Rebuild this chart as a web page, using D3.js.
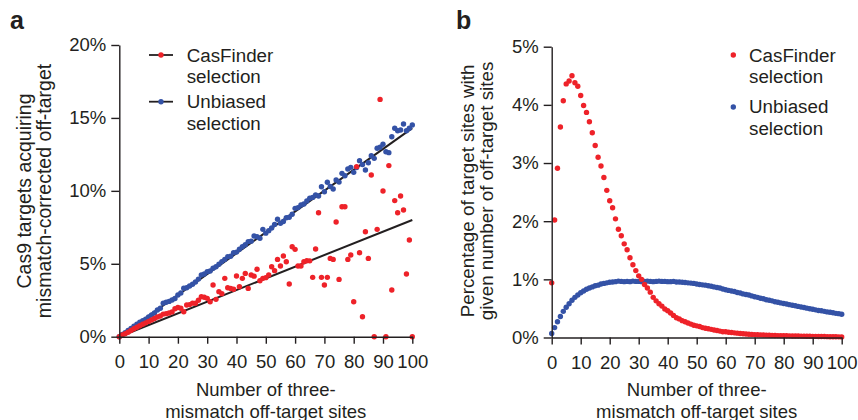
<!DOCTYPE html>
<html>
<head>
<meta charset="utf-8">
<script src="https://cdn.jsdelivr.net/npm/d3@7"></script>
<style>
  body { margin: 0; background: #fff; }
  svg { display: block; font-family: "Liberation Sans", Arial, Helvetica, sans-serif; }
  .axis path, .axis line { stroke: #231f20; stroke-width: 1.4; }
  .axis text { font-size: 18.5px; fill: #231f20; font-family: "Liberation Sans", Arial, sans-serif; }
  .title { font-size: 18.5px; fill: #231f20; }
  .legend { font-size: 18.8px; fill: #231f20; }
  .letter { font-size: 25px; font-weight: bold; fill: #231f20; }
</style>
</head>
<body>
<svg id="chart" width="858" height="420"></svg>
<script>
// number of three-mismatch off-target sites, one point per count
const sites = d3.range(0, 101);
const xTicks = [0, 10, 20, 30, 40, 50, 60, 70, 80, 90, 100];
const aTicks = [0, 5, 10, 15, 20];
const bTicks = [0, 1, 2, 3, 4, 5];
const legendNames = ['CasFinder', 'Unbiased'];

// panel a: % of Cas9 targets acquiring mismatch-corrected off-target
const aCasFinder = [
  0, 0.12, 0.2, 0.3, 0.42, 0.55, 0.65, 0.75, 0.85, 0.95,
  1.05, 1.15, 1.25, 1.35, 1.42, 1.55, 1.58, 1.62, 1.7, 1.92,
  2.0, 1.95, 1.71, 2.17, 2.2, 2.3, 2.29, 2.5, 2.74, 2.7,
  2.63, 2.4, 3.54, 2.56, 3.09, 2.95, 4.0, 3.36, 3.3, 3.25,
  4.16, 3.43, 4.0, 4.34, 3.31, 4.23, 4.15, 4.62, 3.84, 4.0,
  4.05, 4.23, 4.8, 4.53, 5.3, 4.85, 5.53, 5.14, 3.61, 6.17,
  5.99, 4.85, 4.85, 5.14, 5.21, 5.2, 4.07, 6.01, 8.5, 4.07,
  3.54, 4.07, 5.37, 5.3, 7.86, 3.93, 8.91, 8.91, 5.3, 5.6,
  2.4, 11.66, 5.76, 1.37, 7.2, 5.37, 11.09, 0, 7.36, 16.27,
  9.99, 0, 11.73, 3.2, 9.33, 8.5, 9.65, 8.69, 4.3, 6.63,
  0
];
const aUnbiased = [
  0, 0.15, 0.28, 0.42, 0.57, 0.72, 0.85, 1.0, 1.1, 1.2,
  1.36, 1.49, 1.62, 1.83, 1.95, 2.3, 2.36, 2.42, 2.52, 2.62,
  2.86, 3.0, 3.32, 3.36, 3.48, 3.6, 3.75, 3.95, 4.23, 4.3,
  4.46, 4.5, 4.69, 4.8, 4.97, 5.15, 5.3, 5.49, 5.52, 5.76,
  5.8, 6.0, 6.17, 6.3, 6.52, 6.55, 6.9, 6.85, 6.75, 7.36,
  7.1, 7.27, 7.45, 7.7, 8.05, 7.77, 7.9, 8.16, 8.19, 8.4,
  8.8, 8.85, 9.03, 9.1, 9.3, 9.49, 9.55, 9.72, 9.65, 10.28,
  9.94, 10.59, 10.3, 10.13, 10.74, 10.6, 11.2, 11.04, 11.5, 11.61,
  11.27, 11.6, 12.07, 11.8, 11.43, 11.93, 12.41, 12.23, 12.92, 12.99,
  13.19, 12.68, 12.62, 13.71, 14.29, 14.12, 14.17, 14.58, 14.12, 14.29,
  14.51
];
const fitSites = [0, 100];
const aCasFinderFit = [0, 8.0];
const aUnbiasedFit = [0, 14.3];

// panel b: % of target sites with given number of off-target sites
const bCasFinder = [
  0.94, 2.02, 2.91, 3.62, 4.07, 4.36, 4.41, 4.5, 4.38, 4.32,
  4.16, 3.99, 3.87, 3.71, 3.52, 3.3, 3.1, 2.95, 2.75, 2.53,
  2.35, 2.23, 2.04, 1.86, 1.75, 1.61, 1.51, 1.37, 1.25, 1.15,
  1.06, 1.0, 0.91, 0.85, 0.78, 0.69, 0.63, 0.58, 0.54, 0.49,
  0.46, 0.42, 0.38, 0.34, 0.32, 0.29, 0.27, 0.25, 0.23, 0.21,
  0.2, 0.19, 0.17, 0.16, 0.15, 0.14, 0.13, 0.12, 0.11, 0.1,
  0.1, 0.09, 0.085, 0.08, 0.075, 0.07, 0.065, 0.06, 0.057, 0.053,
  0.05, 0.048, 0.045, 0.043, 0.04, 0.038, 0.036, 0.035, 0.033, 0.032,
  0.03, 0.029, 0.028, 0.027, 0.026, 0.025, 0.024, 0.023, 0.022, 0.021,
  0.02, 0.019, 0.018, 0.017, 0.016, 0.015, 0.014, 0.013, 0.012, 0.011,
  0.01
];
const bUnbiased = [
  0.07, 0.17, 0.27, 0.36, 0.45, 0.52, 0.58, 0.64, 0.69, 0.73,
  0.77, 0.8, 0.83, 0.85, 0.87, 0.89, 0.9, 0.92, 0.93, 0.94,
  0.95, 0.955, 0.96, 0.97, 0.965, 0.96, 0.965, 0.96, 0.97, 0.965,
  0.965, 0.96, 0.965, 0.97, 0.965, 0.96, 0.965, 0.97, 0.965, 0.965,
  0.96, 0.96, 0.965, 0.955, 0.955, 0.95, 0.945, 0.94, 0.935, 0.93,
  0.92, 0.91, 0.905, 0.9, 0.89, 0.88, 0.87, 0.86, 0.85, 0.835,
  0.82, 0.81, 0.8, 0.79, 0.775, 0.765, 0.75, 0.74, 0.73, 0.715,
  0.7, 0.69, 0.675, 0.665, 0.65, 0.64, 0.63, 0.615, 0.605, 0.595,
  0.585, 0.575, 0.565, 0.555, 0.545, 0.535, 0.525, 0.515, 0.505, 0.495,
  0.485, 0.475, 0.465, 0.46, 0.45, 0.44, 0.435, 0.425, 0.415, 0.41,
  0.4
];

const red = '#ee2229';
const blue = '#3452a6';
const ink = '#231f20';

const svg = d3.select('#chart');

function drawPanel(p) {
  let x = d3.scaleLinear().domain([0, 100]).range(p.xRange);
  let y = d3.scaleLinear().domain(p.yDomain).range(p.yRange);
  let g = svg.append('g');

  (p.fits || []).forEach(f => {
    g.append('line')
      .attr('x1', x(fitSites[0])).attr('y1', y(f[0]))
      .attr('x2', x(fitSites[1])).attr('y2', y(f[1]))
      .attr('stroke', ink)
      .attr('stroke-width', 2);
  });

  [[p.unbiased, blue], [p.casFinder, red]].forEach(([vals, color]) => {
    g.append('g').selectAll('circle')
      .data(sites)
      .join('circle')
        .attr('cx', d => x(d))
        .attr('cy', (d, i) => y(vals[i]))
        .attr('r', 2.7)
        .attr('fill', color);
  });

  g.append('g')
    .attr('class', 'axis')
    .attr('transform', `translate(0,${p.yRange[0]})`)
    .call(d3.axisBottom(x).tickValues(xTicks).tickSize(7).tickSizeOuter(0).tickPadding(11));

  g.append('g')
    .attr('class', 'axis')
    .attr('transform', `translate(${p.xRange[0]},0)`)
    .call(d3.axisLeft(y).tickValues(p.yTicks).tickFormat(d => d + '%').tickSize(8).tickSizeOuter(0).tickPadding(5));

  let cx = (p.xRange[0] + p.xRange[1]) / 2;
  ['Number of three-', 'mismatch off-target sites'].forEach((t, i) => {
    g.append('text')
      .attr('class', 'title')
      .attr('x', cx)
      .attr('y', 396 + i * 21.5)
      .attr('text-anchor', 'middle')
      .text(t);
  });

  p.yTitle.forEach((t, i) => {
    g.append('text')
      .attr('class', 'title')
      .style('font-size', p.yTitleSize + 'px')
      .attr('transform', `translate(${p.yTitleX + i * p.yTitleGap},191) rotate(-90)`)
      .attr('text-anchor', 'middle')
      .text(t);
  });

  g.append('text')
    .attr('class', 'letter')
    .attr('x', p.letterX)
    .attr('y', 29)
    .text(p.letter);
}

drawPanel({
  letter: 'a', letterX: 10,
  xRange: [119.3, 412.3], yDomain: [0, 20], yRange: [336.7, 45],
  yTicks: aTicks,
  casFinder: aCasFinder, unbiased: aUnbiased,
  fits: [aCasFinderFit, aUnbiasedFit],
  yTitle: ['Cas9 targets acquiring', 'mismatch-corrected off-target'],
  yTitleX: 31, yTitleSize: 19.5, yTitleGap: 19.5
});

drawPanel({
  letter: 'b', letterX: 456,
  xRange: [551.7, 841.7], yDomain: [0, 5], yRange: [337.5, 46.7],
  yTicks: bTicks,
  casFinder: bCasFinder, unbiased: bUnbiased,
  yTitle: ['Percentage of target sites with', 'given number of off-target sites'],
  yTitleX: 474, yTitleSize: 18.8, yTitleGap: 19
});

// legends
function legend(x0, withLine, rows) {
  let lg = svg.append('g');
  rows.forEach((r, i) => {
    if (withLine) {
      lg.append('line')
        .attr('x1', x0 - 12).attr('x2', x0 + 12)
        .attr('y1', r.y).attr('y2', r.y)
        .attr('stroke', ink).attr('stroke-width', 1.8);
    }
    lg.append('circle')
      .attr('cx', x0).attr('cy', r.y).attr('r', 2.7)
      .attr('fill', r.color);
    [legendNames[i], 'selection'].forEach((t, j) => {
      lg.append('text')
        .attr('class', 'legend')
        .attr('x', r.textX)
        .attr('y', r.base + j * 21.7)
        .text(t);
    });
  });
}

legend(161, true, [
  {y: 55, base: 61.7, color: red, textX: 186.7},
  {y: 101.7, base: 108.3, color: blue, textX: 186.7}
]);
legend(733.3, false, [
  {y: 55, base: 61.7, color: red, textX: 749},
  {y: 107, base: 113, color: blue, textX: 749}
]);
</script>
</body>
</html>
